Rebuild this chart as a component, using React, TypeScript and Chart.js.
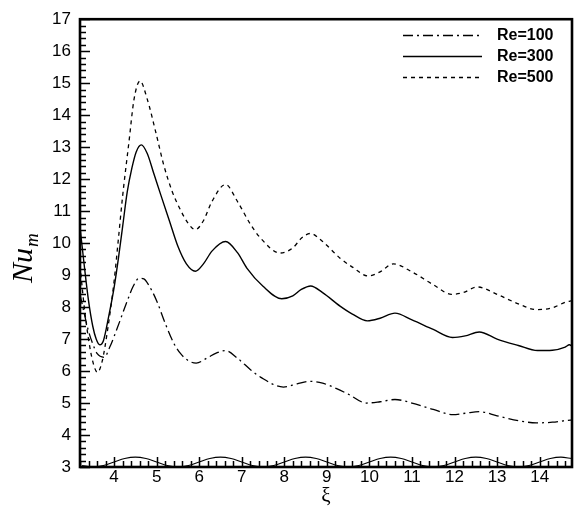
import { useEffect, useRef } from 'react';
import { Chart, registerables } from 'chart.js';

Chart.register(...registerables);

// ---- data ----
const x100 = [3.2, 3.3, 3.4, 3.5, 3.6, 3.77, 3.9, 4.08, 4.31, 4.45, 4.59, 4.7, 4.8, 5.0, 5.2, 5.4, 5.56, 5.75, 5.93, 6.2, 6.4, 6.62, 6.9, 7.2, 7.44, 7.98, 8.3, 8.61, 8.9, 9.23, 9.5, 9.93, 10.25, 10.6, 11.0, 11.5, 11.96, 12.25, 12.58, 13.0, 13.5, 13.92, 14.3, 14.66, 14.76];
const nu100 = [8.4, 7.8, 7.25, 6.85, 6.55, 6.43, 6.75, 7.36, 8.19, 8.65, 8.9, 8.88, 8.72, 8.2, 7.5, 6.88, 6.55, 6.32, 6.25, 6.42, 6.56, 6.64, 6.4, 6.05, 5.81, 5.5, 5.6, 5.68, 5.62, 5.45, 5.28, 5.0, 5.04, 5.11, 5.0, 4.8, 4.64, 4.68, 4.73, 4.6, 4.45, 4.38, 4.4, 4.46, 4.47];

const x300 = [3.2, 3.3, 3.4, 3.5, 3.58, 3.665, 3.75, 3.88, 4.0, 4.1, 4.2, 4.31, 4.42, 4.52, 4.64, 4.78, 4.94, 5.1, 5.3, 5.5, 5.7, 5.91, 6.1, 6.3, 6.62, 6.9, 7.12, 7.5, 7.94, 8.2, 8.4, 8.62, 8.9, 9.31, 9.6, 9.95, 10.25, 10.6, 11.0, 11.5, 11.95, 12.25, 12.58, 13.0, 13.5, 13.95, 14.3, 14.6, 14.7, 14.76];
const nu300 = [10.5, 9.3, 8.2, 7.4, 7.0, 6.82, 6.95, 7.75, 8.6, 9.5, 10.5, 11.6, 12.35, 12.85, 13.07, 12.8, 12.15, 11.5, 10.7, 9.9, 9.35, 9.12, 9.35, 9.75, 10.05, 9.7, 9.22, 8.65, 8.26, 8.35, 8.55, 8.66, 8.45, 8.03, 7.78, 7.57, 7.65, 7.81, 7.6, 7.3, 7.05, 7.1, 7.22, 7.0, 6.8, 6.64, 6.65, 6.75, 6.82, 6.78];

const x500 = [3.2, 3.3, 3.4, 3.5, 3.61, 3.72, 3.85, 4.0, 4.1, 4.2, 4.35, 4.47, 4.61, 4.78, 4.98, 5.17, 5.37, 5.56, 5.75, 5.91, 6.1, 6.3, 6.62, 6.9, 7.2, 7.44, 7.9, 8.2, 8.4, 8.61, 8.9, 9.31, 9.6, 9.97, 10.25, 10.56, 11.0, 11.5, 11.93, 12.2, 12.53, 13.0, 13.5, 13.93, 14.3, 14.62, 14.76];
const nu500 = [9.3, 8.0, 7.0, 6.3, 5.96, 6.3, 7.3, 8.8, 10.1, 11.45, 13.16, 14.5, 15.07, 14.5, 13.47, 12.43, 11.6, 11.04, 10.6, 10.42, 10.7, 11.3, 11.83, 11.3, 10.6, 10.16, 9.69, 9.85, 10.15, 10.3, 10.05, 9.53, 9.25, 8.97, 9.1, 9.35, 9.1, 8.7, 8.4, 8.45, 8.63, 8.4, 8.1, 7.92, 7.98, 8.16, 8.2];

// wavy wall outline along the bottom
const wallX = [3.25, 3.5, 3.75, 4, 4.25, 4.5, 4.75, 5, 5.25, 5.5, 5.75, 6, 6.25, 6.5, 6.75, 7, 7.25, 7.5, 7.75, 8, 8.25, 8.5, 8.75, 9, 9.25, 9.5, 9.75, 10, 10.25, 10.5, 10.75, 11, 11.25, 11.5, 11.75, 12, 12.25, 12.5, 12.75, 13, 13.25, 13.5, 13.75, 14, 14.25, 14.5, 14.75];
const wallY = [3.045,
  3.0, 3.045, 3.155, 3.265, 3.31, 3.265, 3.155, 3.045,
  3.0, 3.045, 3.155, 3.265, 3.31, 3.265, 3.155, 3.045,
  3.0, 3.045, 3.155, 3.265, 3.31, 3.265, 3.155, 3.045,
  3.0, 3.045, 3.155, 3.265, 3.31, 3.265, 3.155, 3.045,
  3.0, 3.045, 3.155, 3.265, 3.31, 3.265, 3.155, 3.045,
  3.0, 3.045, 3.155, 3.265, 3.31, 3.265];

const seriesLabels = ['Re=100', 'Re=300', 'Re=500'];
const xRange = [3.2, 14.76];
const yRange = [3, 17];
const minorPerUnit = 5;

const SANS = '"Liberation Sans", Arial, Helvetica, sans-serif';
const SERIF = '"Liberation Serif", "Times New Roman", serif';

const pts = (xs: number[], ys: number[]) => xs.map((x, i) => ({ x, y: ys[i] }));

const decorPlugin = {
  id: 'decor',
  afterDraw(chart: any) {
    const ctx: CanvasRenderingContext2D = chart.ctx;
    const { left, right, top, bottom } = chart.chartArea;
    const xs = chart.scales['x'];
    const ys = chart.scales['y'];
    ctx.save();
    ctx.setLineDash([]);
    ctx.fillStyle = '#000';
    ctx.strokeStyle = '#000';
    ctx.lineWidth = 1.5;
    ctx.beginPath();
    // inward ticks on bottom axis
    const kx0 = Math.ceil(xRange[0] * minorPerUnit - 1e-6);
    const kx1 = Math.floor(xRange[1] * minorPerUnit + 1e-6);
    for (let k = kx0; k <= kx1; k++) {
      const len = k % minorPerUnit === 0 ? 10 : 6;
      const px = Math.round(xs.getPixelForValue(k / minorPerUnit)) + 0.5;
      ctx.moveTo(px, bottom);
      ctx.lineTo(px, bottom - len);
    }
    // inward ticks on left axis
    const ky0 = Math.ceil(yRange[0] * minorPerUnit - 1e-6);
    const ky1 = Math.floor(yRange[1] * minorPerUnit + 1e-6);
    for (let k = ky0; k <= ky1; k++) {
      const len = k % minorPerUnit === 0 ? 10 : 6;
      const py = Math.round(ys.getPixelForValue(k / minorPerUnit)) + 0.5;
      ctx.moveTo(left, py);
      ctx.lineTo(left + len, py);
    }
    ctx.stroke();
    // frame
    ctx.lineWidth = 2.6;
    ctx.strokeRect(left, top, right - left, bottom - top);

    // legend
    const rows = [35, 56, 77];
    for (let i = 0; i < 3; i++) {
      const ds = chart.data.datasets[i];
      ctx.save();
      ctx.lineWidth = ds.borderWidth;
      ctx.setLineDash(ds.borderDash || []);
      ctx.beginPath();
      ctx.moveTo(403, rows[i] + 0.5);
      ctx.lineTo(482, rows[i] + 0.5);
      ctx.stroke();
      ctx.restore();
      ctx.fillStyle = '#000';
      ctx.font = `bold 16px ${SANS}`;
      ctx.textAlign = 'left';
      ctx.textBaseline = 'middle';
      ctx.fillText(ds.label, 497, rows[i] + 1);
    }

    // x-axis title
    ctx.font = `21px ${SERIF}`;
    ctx.textAlign = 'center';
    ctx.textBaseline = 'alphabetic';
    ctx.fillText('ξ', (left + right) / 2, 502);

    // y-axis title Nu_m
    ctx.save();
    ctx.translate(32, 283);
    ctx.rotate(-Math.PI / 2);
    ctx.textAlign = 'left';
    ctx.textBaseline = 'alphabetic';
    ctx.font = `italic 30px ${SERIF}`;
    ctx.fillText('Nu', 0, 0);
    const w = ctx.measureText('Nu').width;
    ctx.font = `italic 19px ${SERIF}`;
    ctx.fillText('m', w + 1, 6);
    ctx.restore();
    ctx.restore();
  },
};

export default function App() {
  const ref = useRef<HTMLCanvasElement>(null);
  useEffect(() => {
    if (!ref.current) return;
    const lineBase = { pointRadius: 0, borderColor: '#000', backgroundColor: '#000', fill: false, cubicInterpolationMode: 'monotone' as const };
    const chart = new Chart(ref.current, {
      type: 'line',
      data: {
        datasets: [
          { ...lineBase, label: seriesLabels[0], data: pts(x100, nu100), borderWidth: 1.3, borderDash: [10, 4, 2, 4] },
          { ...lineBase, label: seriesLabels[1], data: pts(x300, nu300), borderWidth: 1.4, borderDash: [] },
          { ...lineBase, label: seriesLabels[2], data: pts(x500, nu500), borderWidth: 1.3, borderDash: [4, 4] },
          { ...lineBase, label: 'wall', data: pts(wallX, wallY), borderWidth: 1.1, borderDash: [] },
        ],
      },
      options: {
        animation: false,
        responsive: false,
        maintainAspectRatio: false,
        layout: { padding: { top: 16, right: 8, left: 0, bottom: 0 } },
        plugins: { legend: { display: false }, tooltip: { enabled: false } },
        scales: {
          x: {
            type: 'linear',
            min: xRange[0],
            max: xRange[1],
            afterFit: (s: any) => { s.height = 41; },
            grid: { display: false, drawTicks: false },
            border: { display: false },
            ticks: { stepSize: 1, includeBounds: false, padding: 0, color: '#000', maxRotation: 0, autoSkip: false, font: { family: SANS, size: 17 } },
            title: { display: false },
          },
          y: {
            type: 'linear',
            min: yRange[0],
            max: yRange[1],
            afterFit: (s: any) => { s.width = 80; },
            grid: { display: false, drawTicks: false },
            border: { display: false },
            ticks: { stepSize: 1, padding: 9, color: '#000', autoSkip: false, font: { family: SANS, size: 17 } },
          },
        },
      },
      plugins: [decorPlugin],
    });
    return () => chart.destroy();
  }, []);
  return (
    <div style={{ position: 'fixed', left: 0, top: 0, width: 580, height: 508, background: '#fff' }}>
      <canvas ref={ref} width={580} height={508} style={{ width: 580, height: 508, display: 'block' }} />
    </div>
  );
}
